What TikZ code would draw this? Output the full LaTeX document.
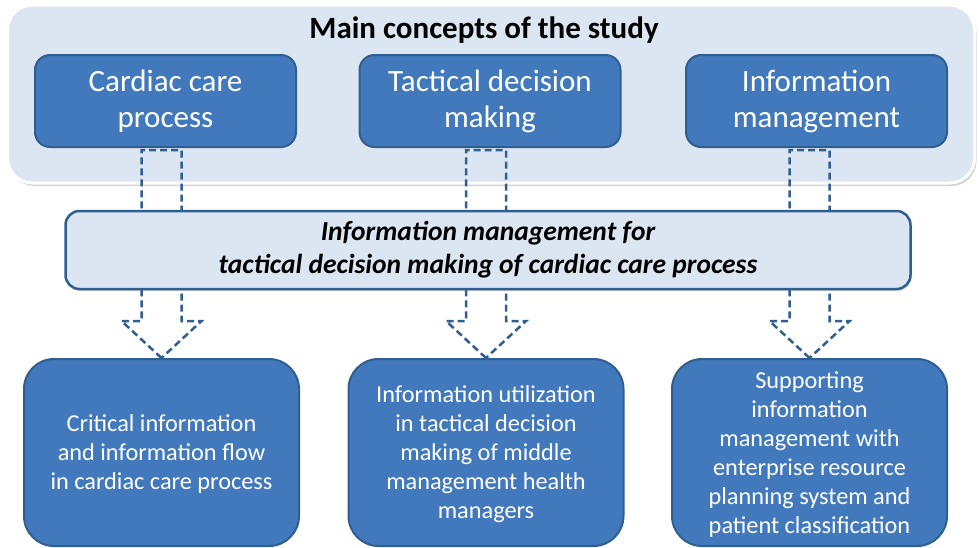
\documentclass[tikz,border=0pt]{standalone}
\usepackage{fontspec}
\setmainfont{Carlito}
\usepackage{xcolor}
\definecolor{boxblue}{HTML}{4279BD}
\definecolor{lineblue}{HTML}{2F5F91}
\definecolor{paleblue}{HTML}{DCE6F2}
\usetikzlibrary{positioning,shadows,calc}

\tikzset{
    panel/.style={rounded corners=25pt, fill=paleblue, draw=white, line width=3pt,
        drop shadow={shadow xshift=2pt, shadow yshift=-3pt, opacity=0.35},
        minimum width=967pt, minimum height=178pt},
    concept/.style={rounded corners=15pt, fill=boxblue, draw=lineblue, line width=2pt,
        text=white, align=center, minimum width=261pt, minimum height=92pt,
        font=\fontsize{31}{36}\selectfont},
    focus/.style={rounded corners=14pt, fill=paleblue, draw=lineblue, line width=2.5pt,
        align=center, minimum width=845pt, minimum height=78pt,
        drop shadow={shadow xshift=1pt, shadow yshift=-2pt, opacity=0.3},
        font=\fontsize{27.5}{33}\selectfont\bfseries\itshape},
    outcome/.style={rounded corners=30pt, fill=boxblue, draw=lineblue, line width=2pt,
        text=white, align=center, minimum width=275pt, minimum height=187pt,
        text depth=0pt, font=\fontsize{24.3}{29}\selectfont},
    blockarrow/.style={draw=lineblue, line width=2.5pt, dash pattern=on 7pt off 4pt}
}

\begin{document}
\begin{tikzpicture}[x=1pt,y=-1pt]
    \useasboundingbox (0,0) rectangle (979,547);
    % top panel with the three concepts
    \node[panel] (panel) at (491,94) {};
    \node[font=\fontsize{31}{36}\selectfont\bfseries] (title) at (484,30) {Main concepts of the study};
    \node[concept] (top1) at (165.5,101) {Cardiac care\\process};
    \node[concept] (top2) at (490,101) {Tactical decision\\making};
    \node[concept] (top3) at (816.5,101) {Information\\management};

    % results of the study
    \node[outcome] (bot1) at (161.5,452.5) {Critical information\\and information flow\\in cardiac care process};
    \node[outcome] (bot2) at (486,452.5) {Information utilization\\in tactical decision\\making of middle\\management health\\managers};
    \node[outcome] (bot3) at (809.5,452.5) {Supporting\\information\\management with\\enterprise resource\\planning system and\\patient classification};

    % dashed block arrows, partly hidden by the middle box
    \foreach \i in {1,2,3}
        \draw[blockarrow] (bot\i.north) -- ++(-40,-37) -- ++(20,0) -- ++(0,-171)
            -- ++(40,0) -- ++(0,171) -- ++(20,0) -- cycle;

    \node[focus] (focus) at (488,250) {Information management for\\tactical decision making of cardiac care process};
\end{tikzpicture}
\end{document}
